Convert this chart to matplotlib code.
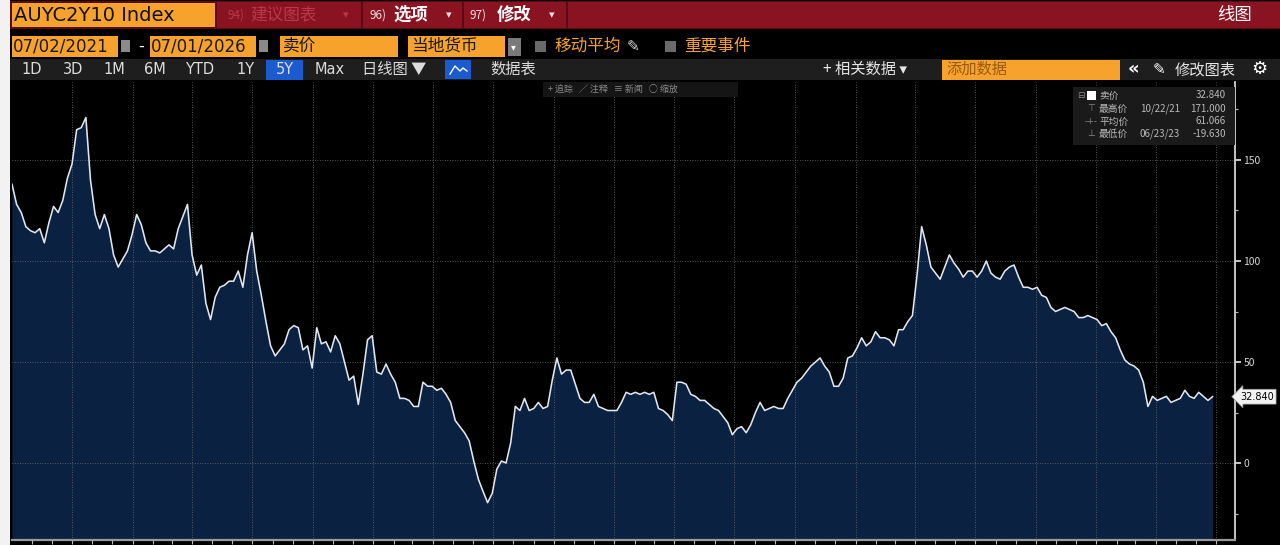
import matplotlib
matplotlib.use("Agg")
import matplotlib.pyplot as plt
import matplotlib.dates as mdates
from matplotlib.patches import Rectangle
from matplotlib.ticker import MultipleLocator
import pandas as pd

plt.rcParams['font.family'] = ['Noto Sans CJK SC', 'DejaVu Sans']

# -----------------------------
# data (weekly)
# -----------------------------
ticker = "AUYC2Y10 Index"
start_label = "07/02/2021"
end_label = "07/01/2026"
dates = pd.date_range("2021-07-02", periods=261, freq="7D")
spread = [
    138, 128, 124, 117, 115, 114, 116, 109, 119, 127,
    124, 130, 141, 148, 165, 166, 171, 140, 123, 116,
    123, 116, 103, 97, 101, 105, 113, 123, 118, 109,
    105, 105, 104, 106, 108, 106, 116, 122, 128, 103,
    93, 98, 79, 71, 82, 87, 88, 90, 90, 95,
    87, 103, 114, 95, 83, 70, 58, 53, 56, 59,
    66, 68, 67, 56, 58, 47, 67, 59, 60, 55,
    63, 59, 50, 41, 43, 29, 44, 61, 63, 45,
    44, 49, 44, 40, 32, 32, 31, 28, 28, 40,
    38, 38, 36, 37, 34, 30, 21, 18, 15, 11,
    1, -8, -14, -19.63, -15, -3, 1, 0, 10, 28,
    26, 32, 26, 27, 30, 27, 28, 41, 52, 44,
    46, 46, 39, 32, 30, 30, 34, 28, 27, 26,
    26, 26, 30, 35, 34, 35, 34, 35, 34, 35,
    27, 26, 24, 21, 40, 40, 39, 34, 33, 31,
    31, 29, 27, 26, 23, 20, 14, 17, 18, 15,
    19, 25, 30, 26, 27, 28, 27, 27, 32, 36,
    40, 42, 45, 48, 50, 52, 48, 45, 38, 38,
    42, 52, 53, 57, 62, 58, 60, 65, 62, 62,
    61, 58, 66, 66, 70, 73, 93, 117, 108, 97,
    94, 91, 97, 103, 99, 96, 92, 95, 95, 92,
    95, 100, 94, 92, 91, 95, 97, 98, 92, 87,
    87, 86, 87, 83, 82, 77, 75, 76, 77, 76,
    75, 72, 72, 73, 72, 71, 68, 69, 65, 62,
    56, 51, 49, 48, 46, 40, 28, 33, 31, 32,
    33, 30, 31, 32, 36, 33, 32, 35, 33, 31,
    32.84,
]
last_px = "32.840"
high_date, high_px = "10/22/21", "171.000"
avg_px = "61.066"
low_date, low_px = "06/23/23", "-19.630"
range_buttons = ["1D", "3D", "1M", "6M", "YTD", "1Y", "5Y", "Max"]

ORANGE = '#f6a22c'
NAVY = '#0a2142'

fig = plt.figure(figsize=(12.8, 5.45), dpi=100, facecolor='black')

# screen chrome in pixel coordinates
ui = fig.add_axes([0, 0, 1, 1], zorder=0)
ui.set_xlim(0, 1280)
ui.set_ylim(545, 0)
ui.axis('off')


def box(a, x0, y0, w, h, c):
    a.add_patch(Rectangle((x0, y0), w, h, color=c, lw=0))


def txt(a, x, y, s, size=12, c='white', **kw):
    a.text(x, y, s, fontsize=size, color=c, va='center', **kw)


box(ui, 0, 0, 1280, 545, 'black')
box(ui, 0, 0, 10, 545, '#f2f2f2')

# row 1 - red title bar
box(ui, 10, 1, 1270, 28, '#5a0a13')
for x0, w in [(217, 144), (363, 99), (464, 102), (568, 712)]:
    box(ui, x0, 2, w, 26, '#8a1322')
box(ui, 12, 3, 203, 24, ORANGE)
txt(ui, 14, 15.5, ticker, 14, '#111111', family='DejaVu Sans')
txt(ui, 227, 15, "94)", 8.5, '#b8394a')
txt(ui, 250, 15, "建议图表", 12, '#b8394a')
txt(ui, 343, 15, "▾", 8, '#b8394a')
txt(ui, 370, 15, "96)", 8.5, '#f0dede')
txt(ui, 393, 15, "选项", 12.5, 'white', weight='bold')
txt(ui, 446, 15, "▾", 8, '#f0dede')
txt(ui, 470, 15, "97)", 8.5, '#f0dede')
txt(ui, 497, 15, "修改", 12.5, 'white', weight='bold')
txt(ui, 549, 15, "▾", 8, '#f0dede')
txt(ui, 1217, 15, "线图", 12.5, 'white')

# row 2 - dates and options
box(ui, 12, 36, 106, 21, ORANGE)
txt(ui, 13, 46.5, start_label, 12, '#1a1a1a', family='DejaVu Sans')
box(ui, 121, 40, 9, 12, '#8a8a8a')
txt(ui, 138, 46.5, "-", 12, 'white')
box(ui, 150, 36, 106, 21, ORANGE)
txt(ui, 151, 46.5, end_label, 12, '#1a1a1a', family='DejaVu Sans')
box(ui, 259, 40, 9, 12, '#8a8a8a')
box(ui, 280, 36, 118, 21, ORANGE)
txt(ui, 283, 46.5, "卖价", 12, '#1a1a1a')
box(ui, 408, 36, 97, 21, ORANGE)
txt(ui, 411, 46.5, "当地货币", 12, '#1a1a1a')
box(ui, 508, 38, 13, 18, '#7a7a7a')
txt(ui, 511, 47, "▾", 7, 'white')
box(ui, 535, 41, 11, 11, '#6a6a6a')
txt(ui, 554, 46.5, "移动平均", 12, ORANGE)
txt(ui, 627, 46.5, "✎", 11, '#dddddd', family='DejaVu Sans')
box(ui, 665, 41, 11, 11, '#6a6a6a')
txt(ui, 684, 46.5, "重要事件", 12, ORANGE)

# row 3 - range buttons
box(ui, 10, 59, 1270, 21, '#1e1e1e')
btn_x = [32, 73, 114, 155, 200, 245, 285, 330]
box(ui, 266, 60, 37, 20, '#1a5ccf')
for bx, lab in zip(btn_x, range_buttons):
    ui.text(bx, 69.5, lab, fontsize=10.5, color='#dcdcdc', ha='center', va='center',
            family='DejaVu Sans')
txt(ui, 362, 69.5, "日线图 ▼", 11, '#dcdcdc')
box(ui, 445, 60, 26, 19, '#1a5ccf')
ui.plot([450, 455, 460, 463, 467], [74, 66, 71, 68, 71], color='white', lw=1)
txt(ui, 490, 69.5, "数据表", 11, '#dcdcdc')
txt(ui, 823, 69.5, "+ 相关数据 ▾", 11, '#e6e6e6')
box(ui, 942, 60, 178, 20, ORANGE)
txt(ui, 946, 69.5, "添加数据", 11, '#9a5a10')
txt(ui, 1128, 69.5, "«", 13, 'white', family='DejaVu Sans', weight='bold')
txt(ui, 1153, 69.5, "✎", 11, 'white', family='DejaVu Sans')
txt(ui, 1175, 69.5, "修改图表", 11, '#e6e6e6')
txt(ui, 1251, 69.5, "⚙", 13, 'white', family='DejaVu Sans')

# -----------------------------
# the chart
# -----------------------------
ax = fig.add_axes([12 / 1280, 5 / 545, 1223 / 1280, 458 / 545], zorder=2)
ax.set_facecolor('black')
ymin, ymax = -38.1, 188.6
ax.fill_between(dates, spread, ymin, color=NAVY, lw=0, zorder=1)
ax.plot(dates, spread, color='#e2e6ee', lw=1.15, zorder=3)

ax.set_xlim(pd.Timestamp("2021-07-02"), pd.Timestamp("2026-07-30"))
ax.set_ylim(ymin, ymax)

ax.yaxis.tick_right()
ax.yaxis.set_major_locator(MultipleLocator(50))
ax.yaxis.set_minor_locator(MultipleLocator(25))
ax.xaxis.set_major_locator(mdates.MonthLocator(bymonth=[1, 4, 7, 10]))
ax.xaxis.set_minor_locator(mdates.MonthLocator())

ax.grid(True, which='major', color='#6e6e6e', ls=(0, (1, 2)), lw=0.6, zorder=2)
ax.set_axisbelow(False)
ax.tick_params(axis='y', which='major', direction='out', length=4, width=1.3,
               colors='#d4d4d4', labelsize=7.5, pad=2)
ax.tick_params(axis='y', which='minor', direction='out', length=2.5, width=0.8,
               colors='#bbbbbb')
# the date labels sit below the visible screen area
ax.tick_params(axis='x', which='both', direction='out', length=3, width=0.8,
               colors='#bbbbbb', labelbottom=False)
for side in ['left', 'top']:
    ax.spines[side].set_visible(False)
ax.spines['right'].set_color('#e6e6e6')
ax.spines['right'].set_linewidth(1.2)
ax.spines['bottom'].set_color('#9a9a9a')
ax.spines['bottom'].set_linewidth(1.6)

# last price tag on the axis
ax.text(1.004, spread[-1], last_px, transform=ax.get_yaxis_transform(),
        fontsize=7, color='black', ha='left', va='center', family='DejaVu Sans',
        bbox=dict(boxstyle='larrow,pad=0.25', fc='#f2f2f2', ec='#999999', lw=0.5),
        clip_on=False, zorder=6)

# overlays drawn on top of the chart
top = fig.add_axes([0, 0, 1, 1], zorder=5, facecolor='none')
top.set_xlim(0, 1280)
top.set_ylim(545, 0)
top.axis('off')

box(top, 543, 82, 195, 15, '#151515')
txt(top, 548, 89, "+ 追踪   ∕ 注释   ≡ 新闻   ○ 缩放", 6.5, '#8a8a8a')

box(top, 1073, 87, 162, 58, '#1a1a1a')
lc = '#b8b8b8'
txt(top, 1077, 95.5, "⊟", 6.5, '#8a8a8a', family='DejaVu Sans')
box(top, 1087, 91, 9, 9, 'white')
txt(top, 1099, 95.5, "卖价", 7, lc)
top.text(1226, 95.5, last_px, fontsize=7, color=lc, ha='right', va='center')
txt(top, 1087, 108.5, "⊤", 6.5, '#8a8a8a', family='DejaVu Sans')
txt(top, 1099, 108.5, "最高价", 7, lc)
txt(top, 1140, 108.5, high_date, 7, lc)
top.text(1226, 108.5, high_px, fontsize=7, color=lc, ha='right', va='center')
txt(top, 1085, 121.5, "-+-", 6, '#8a8a8a', family='DejaVu Sans')
txt(top, 1099, 121.5, "平均价", 7, lc)
top.text(1226, 121.5, avg_px, fontsize=7, color=lc, ha='right', va='center')
txt(top, 1087, 134, "⊥", 6.5, '#8a8a8a', family='DejaVu Sans')
txt(top, 1099, 134, "最低价", 7, lc)
txt(top, 1140, 134, low_date, 7, lc)
top.text(1226, 134, low_px, fontsize=7, color=lc, ha='right', va='center')

fig.savefig("out.png", dpi=100, facecolor='black')
